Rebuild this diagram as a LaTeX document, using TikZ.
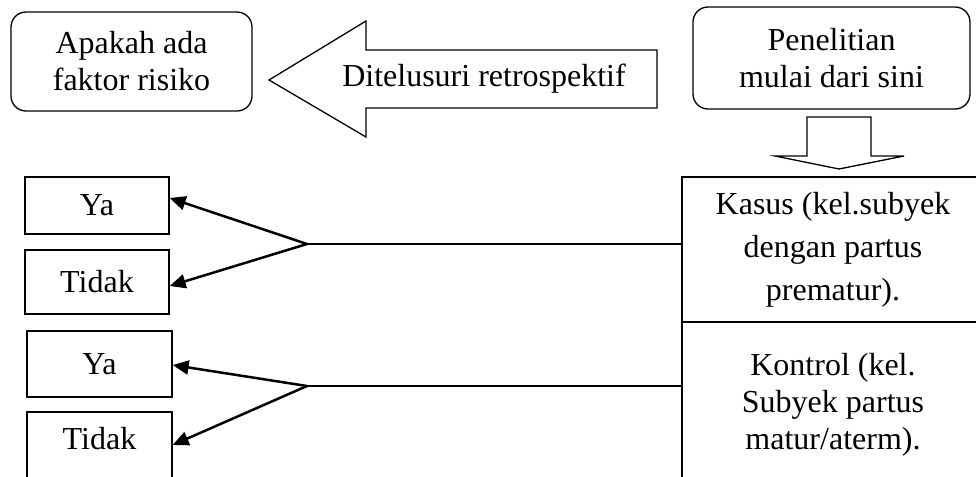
\documentclass[tikz,border=0pt]{standalone}
\usepackage{fontspec}
\setmainfont{Liberation Serif}
\usetikzlibrary{arrows.meta}
\begin{document}
\begin{tikzpicture}[x=1pt,y=-1pt,
  txt/.style={font=\fontsize{32}{37}\selectfont, align=center},
  rbox/.style={txt, draw, line width=1.3pt, rounded corners=15pt, inner sep=0pt},
  sbox/.style={txt, draw, line width=1.3pt, inner sep=0pt},
  bigarrow/.style={draw, line width=1.3pt, fill=white, line join=miter},
  conn/.style={line width=1.3pt},
  pick/.style={line width=2.5pt, -{Triangle[length=16pt,width=14pt]}}]
\path[use as bounding box, clip] (0,0) rectangle (976,476);
% top rounded boxes
\node[rbox, minimum width=241pt, minimum height=99pt] (apakah) at (131.5,61.5) {Apakah ada\\faktor risiko};
\node[rbox, minimum width=277pt, minimum height=102pt] (penelitian) at (831.5,58) {Penelitian\\mulai dari sini};
% big left arrow
\draw[bigarrow] (269,80) -- (366,21) -- (366,50) -- (657,50) -- (657,108) -- (366,108) -- (366,137) -- cycle;
\node[txt] (ditelusuri) at (484,79) {Ditelusuri retrospektif};
% down arrow
\draw[bigarrow] (807,117) -- (871,117) -- (871,156) -- (904,156) -- (839,169) -- (775,156) -- (807,156) -- cycle;
% right group boxes
\node[sbox, minimum width=302pt, minimum height=145pt, font=\fontsize{32}{43}\selectfont] (kasus) at (833,249.5) {Kasus (kel.subyek\\dengan partus\\prematur).};
\node[sbox, minimum width=302pt, minimum height=166pt] (kontrol) at (833,405) {Kontrol (kel.\\Subyek partus\\matur/aterm).};
% left outcome boxes
\node[sbox, minimum width=144pt, minimum height=57pt] (ya1) at (97,205.5) {Ya};
\node[sbox, minimum width=144pt, minimum height=64pt] (tidak1) at (97,282) {Tidak};
\node[sbox, minimum width=145pt, minimum height=66pt] (ya2) at (99.5,364) {Ya};
\node[sbox, minimum width=145pt, minimum height=68pt, text depth=16pt] (tidak2) at (99.5,446) {Tidak};
% split points
\coordinate (s1) at (307,244);
\coordinate (s2) at (307,386);
\draw[conn] (s1) -- (s1 -| kasus.west);
\draw[conn] (s2) -- (s2 -| kontrol.west);
\draw[pick] (s1) -- ([yshift=7.5pt]ya1.east);
\draw[pick] (s1) -- ([yshift=-4pt]tidak1.east);
\draw[pick] (s2) -- ([yshift=-1pt]ya2.east);
\draw[pick] (s2) -- ([yshift=1pt]tidak2.east);
\end{tikzpicture}
\end{document}
